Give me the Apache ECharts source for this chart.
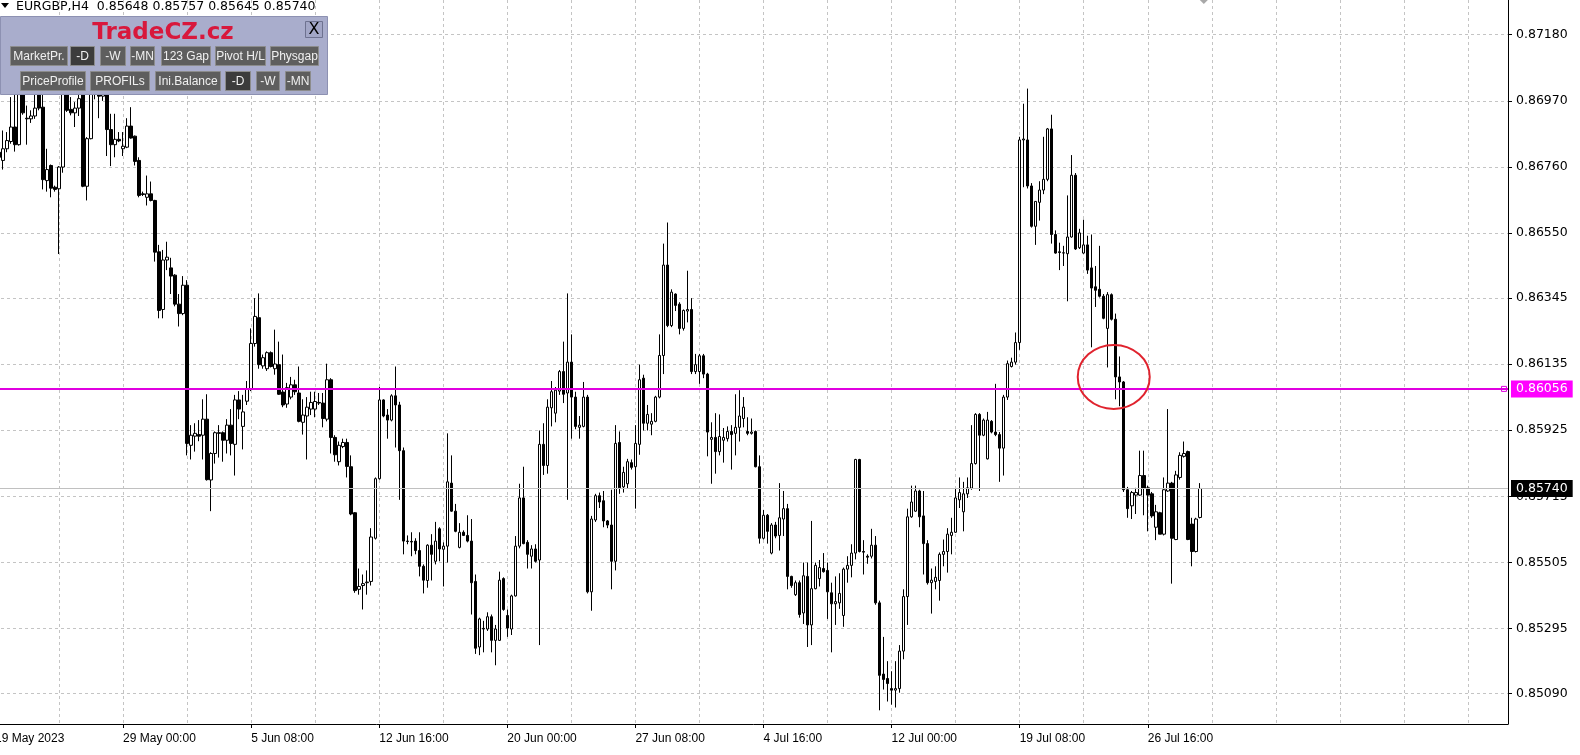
<!DOCTYPE html>
<html><head><meta charset="utf-8">
<script src="https://cdn.jsdelivr.net/npm/echarts@6/dist/echarts.min.js"></script>
<style>html,body{margin:0;padding:0;background:#fff}#c{width:1580px;height:755px}</style>
</head><body><div id="c"></div>
<script>
// ---- calendar (H4 bars, first visible bar = 19 May 16:00) ----
const tradingDays = ['19 May','22 May','23 May','24 May','25 May','26 May','29 May','30 May','31 May',
 '1 Jun','2 Jun','5 Jun','6 Jun','7 Jun','8 Jun','9 Jun','12 Jun','13 Jun','14 Jun','15 Jun','16 Jun',
 '19 Jun','20 Jun','21 Jun','22 Jun','23 Jun','26 Jun','27 Jun','28 Jun','29 Jun','30 Jun',
 '3 Jul','4 Jul','5 Jul','6 Jul','7 Jul','10 Jul','11 Jul','12 Jul','13 Jul','14 Jul',
 '17 Jul','18 Jul','19 Jul','20 Jul','21 Jul','24 Jul','25 Jul','26 Jul','27 Jul','28 Jul',
 '31 Jul','1 Aug','2 Aug','3 Aug','4 Aug','7 Aug','8 Aug','9 Aug','10 Aug','11 Aug','14 Aug','15 Aug','16 Aug'];
const barHours = ['00:00','04:00','08:00','12:00','16:00','20:00'];

// ---- EURGBP H4 OHLC ----
const opens = [
0.86800,0.86807,0.86781,0.86818,0.86841,0.86887,0.86831,0.86995,0.86915,0.86913,
0.86922,0.86990,0.86950,0.86717,0.86765,0.86696,0.86691,0.86760,0.87000,0.86943,
0.86932,0.86947,0.86995,0.86699,0.86850,0.86995,0.87010,0.86985,0.87000,0.86879,
0.86831,0.86848,0.86818,0.86823,0.86890,0.86858,0.86781,0.86675,0.86664,0.86675,
0.86654,0.86491,0.86308,0.86465,0.86440,0.86417,0.86325,0.86295,0.86385,0.85877,
0.85906,0.85911,0.85909,0.85960,0.85767,0.85851,0.85917,0.85917,0.85893,0.85941,
0.85880,0.86021,0.85937,0.86017,0.86056,0.86200,0.86282,0.86129,0.86120,0.86171,
0.86120,0.86133,0.86046,0.86008,0.86030,0.86069,0.86043,0.85950,0.85970,0.85992,
0.85992,0.86013,0.86011,0.85960,0.86085,0.85902,0.85825,0.85873,0.85886,0.85809,
0.85663,0.85420,0.85432,0.85441,0.85445,0.85582,0.85771,0.86021,0.85973,0.85957,
0.86034,0.86005,0.85860,0.85573,0.85572,0.85573,0.85543,0.85493,0.85448,0.85560,
0.85509,0.85612,0.85547,0.85557,0.85757,0.85668,0.85553,0.85601,0.85591,0.85573,
0.85445,0.85237,0.85296,0.85294,0.85333,0.85258,0.85258,0.85454,0.85337,0.85294,
0.85399,0.85557,0.85710,0.85569,0.85525,0.85548,0.85513,0.85880,0.85813,0.85996,
0.85979,0.86049,0.86111,0.86043,0.86141,0.86030,0.85934,0.85937,0.86030,0.85412,
0.85640,0.85717,0.85701,0.85637,0.85624,0.85509,0.85886,0.85745,0.85755,0.85822,
0.85809,0.85880,0.86090,0.85947,0.85944,0.85953,0.86030,0.86162,0.86449,0.86257,
0.86357,0.86325,0.86248,0.86303,0.86308,0.86111,0.86111,0.86161,0.86103,0.85896,
0.85902,0.85857,0.85893,0.85898,0.85921,0.85915,0.85934,0.85962,0.85921,0.85915,
0.85921,0.85809,0.85582,0.85655,0.85535,0.85624,0.85591,0.85643,0.85676,0.85461,
0.85403,0.85441,0.85345,0.85461,0.85307,0.85422,0.85454,0.85486,0.85480,0.85409,
0.85374,0.85377,0.85337,0.85484,0.85496,0.85535,0.85832,0.85540,0.85525,0.85525,
0.85560,0.85377,0.85151,0.85137,0.85105,0.85100,0.85105,0.85224,0.85397,0.85650,
0.85668,0.85732,0.85653,0.85565,0.85441,0.85445,0.85448,0.85531,0.85540,0.85591,
0.85601,0.85704,0.85666,0.85723,0.85741,0.85819,0.85975,0.85909,0.85834,0.85953,
0.85919,0.85911,0.85868,0.86030,0.86127,0.86141,0.86203,0.86846,0.86846,0.86700,
0.86572,0.86648,0.86687,0.86721,0.86881,0.86546,0.86491,0.86487,0.86485,0.86538,
0.86734,0.86504,0.86487,0.86513,0.86440,0.86380,0.86372,0.86350,0.86248,0.86355,
0.86277,0.86094,0.86078,0.85736,0.85685,0.85719,0.85719,0.85781,0.85742,0.85723,
0.85617,0.85663,0.85595,0.85732,0.85757,0.85578,0.85775,0.85842,0.85857,0.85627,
0.85540,0.85648];
const closes = [
0.86810,0.86791,0.86818,0.86844,0.86887,0.86831,0.86990,0.86932,0.86913,0.86922,
0.86947,0.86947,0.86720,0.86752,0.86693,0.86689,0.86760,0.87000,0.86940,0.86932,
0.86947,0.86977,0.86699,0.86850,0.86995,0.87010,0.86985,0.87000,0.86879,0.86831,
0.86848,0.86843,0.86826,0.86890,0.86852,0.86778,0.86670,0.86673,0.86675,0.86654,
0.86490,0.86305,0.86465,0.86474,0.86414,0.86325,0.86295,0.86385,0.85883,0.85909,
0.85915,0.85906,0.85960,0.85768,0.85851,0.85917,0.85915,0.85893,0.85941,0.85883,
0.86021,0.85992,0.85983,0.86056,0.86200,0.86286,0.86133,0.86155,0.86171,0.86127,
0.86135,0.86039,0.86005,0.86060,0.86069,0.86047,0.85953,0.85973,0.85998,0.86013,
0.86016,0.86011,0.85962,0.86085,0.85902,0.85847,0.85877,0.85886,0.85810,0.85659,
0.85416,0.85429,0.85438,0.85443,0.85586,0.85771,0.86021,0.85970,0.85957,0.86034,
0.86005,0.85860,0.85573,0.85572,0.85570,0.85543,0.85493,0.85449,0.85560,0.85531,
0.85573,0.85548,0.85557,0.85761,0.85668,0.85604,0.85601,0.85591,0.85573,0.85441,
0.85233,0.85326,0.85294,0.85333,0.85258,0.85294,0.85449,0.85356,0.85297,0.85399,
0.85557,0.85710,0.85565,0.85531,0.85548,0.85509,0.85880,0.85813,0.85998,0.86047,
0.86052,0.86111,0.86039,0.86141,0.86030,0.85937,0.85941,0.86030,0.85412,0.85643,
0.85717,0.85697,0.85637,0.85624,0.85509,0.85883,0.85742,0.85791,0.85825,0.85807,
0.85883,0.86085,0.85947,0.85975,0.85953,0.86030,0.86162,0.86449,0.86257,0.86363,
0.86321,0.86248,0.86305,0.86308,0.86111,0.86133,0.86161,0.86103,0.85919,0.85902,
0.85857,0.85905,0.85902,0.85921,0.85911,0.85934,0.85970,0.85998,0.85915,0.85919,
0.85809,0.85582,0.85655,0.85604,0.85624,0.85589,0.85647,0.85676,0.85461,0.85432,
0.85441,0.85340,0.85463,0.85307,0.85422,0.85496,0.85489,0.85476,0.85412,0.85374,
0.85381,0.85407,0.85484,0.85496,0.85535,0.85832,0.85540,0.85538,0.85522,0.85560,
0.85377,0.85147,0.85134,0.85121,0.85100,0.85105,0.85224,0.85397,0.85650,0.85697,
0.85732,0.85650,0.85565,0.85441,0.85449,0.85458,0.85531,0.85540,0.85595,0.85601,
0.85710,0.85727,0.85723,0.85742,0.85819,0.85975,0.85909,0.85957,0.85957,0.85919,
0.85911,0.85868,0.86030,0.86136,0.86141,0.86203,0.86846,0.86849,0.86700,0.86572,
0.86651,0.86687,0.86721,0.86881,0.86546,0.86487,0.86489,0.86488,0.86538,0.86734,
0.86500,0.86551,0.86513,0.86433,0.86376,0.86369,0.86350,0.86280,0.86355,0.86277,
0.86094,0.86078,0.85736,0.85676,0.85727,0.85727,0.85781,0.85741,0.85719,0.85653,
0.85666,0.85595,0.85736,0.85757,0.85582,0.85783,0.85845,0.85851,0.85578,0.85540,
0.85643,0.85740];
const lows = [
0.86770,0.86780,0.86752,0.86807,0.86834,0.86809,0.86828,0.86926,0.86831,0.86900,
0.86913,0.86940,0.86689,0.86682,0.86664,0.86682,0.86484,0.86742,0.86935,0.86924,
0.86887,0.86922,0.86696,0.86654,0.86848,0.86975,0.86915,0.86970,0.86795,0.86763,
0.86791,0.86839,0.86795,0.86820,0.86850,0.86765,0.86664,0.86668,0.86638,0.86651,
0.86460,0.86280,0.86280,0.86433,0.86357,0.86318,0.86254,0.86290,0.85845,0.85832,
0.85857,0.85890,0.85832,0.85765,0.85668,0.85819,0.85838,0.85825,0.85851,0.85845,
0.85781,0.85960,0.85864,0.86005,0.86049,0.86190,0.86120,0.86120,0.86113,0.86124,
0.86101,0.86037,0.85998,0.85996,0.86023,0.86037,0.85950,0.85911,0.85832,0.85973,
0.85966,0.86005,0.85934,0.85953,0.85851,0.85825,0.85813,0.85868,0.85775,0.85655,
0.85409,0.85403,0.85356,0.85403,0.85432,0.85578,0.85768,0.85966,0.85898,0.85953,
0.85870,0.85704,0.85531,0.85563,0.85525,0.85531,0.85461,0.85407,0.85425,0.85448,
0.85499,0.85509,0.85429,0.85505,0.85666,0.85601,0.85550,0.85589,0.85569,0.85340,
0.85215,0.85211,0.85220,0.85288,0.85220,0.85179,0.85256,0.85352,0.85269,0.85275,
0.85397,0.85550,0.85563,0.85486,0.85486,0.85505,0.85243,0.85783,0.85787,0.85937,
0.85950,0.86037,0.86011,0.85704,0.85898,0.85928,0.85898,0.85934,0.85407,0.85352,
0.85634,0.85678,0.85617,0.85614,0.85420,0.85480,0.85723,0.85727,0.85741,0.85800,
0.85676,0.85847,0.85924,0.85924,0.85909,0.85950,0.86026,0.86103,0.86252,0.86252,
0.86303,0.86229,0.86241,0.86267,0.86103,0.86103,0.86072,0.86090,0.85842,0.85755,
0.85787,0.85845,0.85822,0.85889,0.85800,0.85845,0.85889,0.85934,0.85909,0.85911,
0.85807,0.85565,0.85578,0.85565,0.85531,0.85582,0.85543,0.85589,0.85420,0.85425,
0.85399,0.85330,0.85310,0.85237,0.85243,0.85420,0.85429,0.85473,0.85326,0.85220,
0.85307,0.85358,0.85301,0.85441,0.85458,0.85515,0.85537,0.85467,0.85501,0.85518,
0.85371,0.85036,0.85102,0.85064,0.85054,0.85045,0.85092,0.85198,0.85307,0.85647,
0.85666,0.85617,0.85467,0.85435,0.85343,0.85420,0.85384,0.85493,0.85473,0.85531,
0.85599,0.85678,0.85604,0.85710,0.85736,0.85816,0.85732,0.85906,0.85832,0.85915,
0.85906,0.85761,0.85781,0.86021,0.86124,0.86133,0.86180,0.86696,0.86692,0.86568,
0.86513,0.86590,0.86674,0.86715,0.86517,0.86485,0.86433,0.86446,0.86334,0.86536,
0.86497,0.86500,0.86485,0.86421,0.86188,0.86316,0.86346,0.86277,0.86124,0.86273,
0.86023,0.86001,0.85729,0.85647,0.85643,0.85659,0.85717,0.85655,0.85604,0.85647,
0.85576,0.85595,0.85591,0.85729,0.85438,0.85576,0.85768,0.85838,0.85576,0.85493,
0.85537,0.85645];
const highs = [
0.86840,0.86830,0.86876,0.86871,0.86982,0.86990,0.87010,0.87020,0.86955,0.86940,
0.86990,0.87010,0.86990,0.86818,0.86768,0.86701,0.86763,0.87030,0.87020,0.86982,
0.86966,0.86990,0.87015,0.86855,0.87030,0.87040,0.87030,0.87030,0.87020,0.86929,
0.86929,0.86871,0.86871,0.86915,0.86950,0.86860,0.86791,0.86682,0.86733,0.86714,
0.86656,0.86513,0.86497,0.86523,0.86472,0.86420,0.86357,0.86414,0.86401,0.85941,
0.85947,0.85957,0.86023,0.86039,0.85855,0.85921,0.85941,0.85921,0.85960,0.85992,
0.86037,0.86049,0.86037,0.86081,0.86248,0.86344,0.86359,0.86165,0.86175,0.86175,
0.86244,0.86206,0.86165,0.86075,0.86094,0.86085,0.86127,0.86023,0.86030,0.86047,
0.86047,0.86043,0.86043,0.86136,0.86090,0.85909,0.85889,0.85898,0.85898,0.85845,
0.85665,0.85486,0.85467,0.85480,0.85614,0.85775,0.86062,0.86023,0.85992,0.86039,
0.86127,0.86015,0.85870,0.85591,0.85601,0.85582,0.85601,0.85499,0.85563,0.85595,
0.85634,0.85617,0.85569,0.85915,0.85845,0.85691,0.85630,0.85607,0.85655,0.85643,
0.85467,0.85330,0.85320,0.85347,0.85340,0.85307,0.85476,0.85458,0.85356,0.85403,
0.85589,0.85755,0.85809,0.85576,0.85560,0.85563,0.85924,0.85947,0.86023,0.86081,
0.86062,0.86116,0.86206,0.86359,0.86229,0.86047,0.85970,0.86078,0.86037,0.85653,
0.85723,0.85727,0.85732,0.85640,0.85736,0.85941,0.85921,0.85809,0.85834,0.85832,
0.85941,0.86133,0.86101,0.86005,0.85979,0.86034,0.86229,0.86517,0.86584,0.86372,
0.86359,0.86331,0.86308,0.86431,0.86344,0.86167,0.86167,0.86167,0.86107,0.85950,
0.85979,0.85975,0.85932,0.85937,0.85941,0.86039,0.86052,0.86030,0.85966,0.85962,
0.85924,0.85845,0.85672,0.85659,0.85630,0.85634,0.85757,0.85732,0.85691,0.85463,
0.85448,0.85448,0.85505,0.85505,0.85637,0.85505,0.85513,0.85535,0.85505,0.85441,
0.85461,0.85471,0.85489,0.85525,0.85563,0.85834,0.85834,0.85576,0.85531,0.85612,
0.85589,0.85384,0.85269,0.85192,0.85160,0.85192,0.85243,0.85420,0.85676,0.85749,
0.85749,0.85736,0.85732,0.85576,0.85486,0.85493,0.85537,0.85578,0.85614,0.85647,
0.85741,0.85775,0.85761,0.85775,0.85941,0.85979,0.85979,0.85962,0.85983,0.85957,
0.86072,0.85919,0.86037,0.86146,0.86155,0.86235,0.86856,0.86961,0.87009,0.86709,
0.86652,0.86715,0.86856,0.86884,0.86926,0.86559,0.86520,0.86510,0.86670,0.86798,
0.86741,0.86564,0.86593,0.86542,0.86546,0.86446,0.86510,0.86357,0.86363,0.86359,
0.86295,0.86159,0.86081,0.85745,0.85732,0.85742,0.85860,0.85860,0.85749,0.85729,
0.85688,0.85666,0.85775,0.85992,0.85761,0.85796,0.85855,0.85889,0.85860,0.85647,
0.85647,0.85757];

// ---- axes / annotations ----
const yTickLabels = [0.85090,0.85295,0.85505,0.85715,0.85925,0.86135,0.86345,0.86550,0.86760,0.86970,0.87180];
const firstLabel = '19 May 2023';
const xTickLabels = ['29 May 00:00','5 Jun 08:00','12 Jun 16:00','20 Jun 00:00','27 Jun 08:00','4 Jul 16:00','12 Jul 00:00','19 Jul 08:00','26 Jul 16:00'];
const symbolName = 'EURGBP,H4';
const levelLine = 0.86056;
const lastClose = 0.85740;
const circleAt = {bar: 279.5, price: 0.86094};
const shiftBar = 302;

const allBars = [];
tradingDays.forEach(d => barHours.forEach(h => allBars.push(d + ' ' + h)));
const TOTAL = 379;
const categories = allBars.slice(4, 4 + TOTAL);
const candles = opens.map((o, i) => [o, closes[i], lows[i], highs[i]]);

const chart = echarts.init(document.getElementById('c'), null, {renderer: 'canvas'});
const isLabel = (i, v) => i === 0 || xTickLabels.indexOf(v) >= 0;
const gridColor = '#c4c4c4';

chart.setOption({
  animation: false,
  backgroundColor: '#ffffff',
  grid: {left: -5, right: 72, top: 0, bottom: 31, containLabel: false, outerBoundsMode: 'none'},
  xAxis: {
    type: 'category', data: categories, boundaryGap: false,
    axisLine: {show: true, lineStyle: {color: '#000', width: 1}},
    axisTick: {show: true, interval: isLabel, length: 4, inside: false, lineStyle: {color: '#000'}},
    axisLabel: {show: true, interval: isLabel, formatter: (v, i) => i === 0 ? firstLabel : v,
      align: 'left', margin: 9, color: '#000', fontFamily: 'Liberation Sans', fontSize: 12},
    splitLine: {show: true, interval: (i) => i % 16 === 0, lineStyle: {color: gridColor, type: [3, 3], width: 1}}
  },
  yAxis: {
    type: 'value', position: 'right', min: 0.849926, max: 0.872901, scale: true,
    axisLine: {show: true, lineStyle: {color: '#000', width: 1}},
    axisTick: {show: true, customValues: yTickLabels, length: 4, lineStyle: {color: '#000'}},
    axisLabel: {show: true, customValues: yTickLabels, formatter: v => v.toFixed(5), margin: 8,
      color: '#000', fontFamily: 'DejaVu Sans', fontSize: 12.5},
    splitLine: {show: true, lineStyle: {color: gridColor, type: [3, 3], width: 1}}
  },
  series: [{
    type: 'candlestick', data: candles, barWidth: 3, silent: true,
    itemStyle: {color: '#ffffff', color0: '#000000', borderColor: '#000000', borderColor0: '#000000', borderColorDoji: '#000000', borderWidth: 1},
    markLine: {
      silent: true, symbol: ['none', 'none'], animation: false, precision: 5, z: 10,
      data: [
        {yAxis: lastClose, lineStyle: {color: '#c0c0c0', width: 1, type: 'solid'},
         label: {show: true, position: 'end', distance: 3, formatter: p => Number(p.value).toFixed(5), backgroundColor: '#000', color: '#fff',
           padding: [2, 5, 2, 5], fontFamily: 'DejaVu Sans', fontSize: 12.5}},
        {yAxis: levelLine, lineStyle: {color: '#e000e0', width: 2, type: 'solid'},
         label: {show: true, position: 'end', distance: 3, formatter: p => Number(p.value).toFixed(5), backgroundColor: '#ff00ff', color: '#fff',
           padding: [2, 5, 2, 5], fontFamily: 'DejaVu Sans', fontSize: 12.5}}
      ]
    },
    markPoint: {
      silent: true, animation: false,
      data: [{coord: [377, levelLine], symbol: 'rect', symbolSize: 5, itemStyle: {color: '#ffffff', borderColor: '#e000e0', borderWidth: 1}, label: {show: false}}]
    }
  }]
});

// ---- overlay: indicator panel, header, annotation ellipse ----
const g = [];
const Z = 100;
const pA = chart.convertToPixel({gridIndex: 0}, [Math.floor(circleAt.bar), circleAt.price]);
const pB = chart.convertToPixel({gridIndex: 0}, [Math.ceil(circleAt.bar), circleAt.price]);
g.push({type: 'ellipse', z: Z, shape: {cx: (pA[0] + pB[0]) / 2, cy: pA[1], rx: 36, ry: 32}, style: {fill: 'none', stroke: '#e0232e', lineWidth: 2}});
const pS = chart.convertToPixel({gridIndex: 0}, [shiftBar, 0.8725]);
g.push({type: 'polygon', z: Z, shape: {points: [[pS[0] - 4, 0], [pS[0] + 4, 0], [pS[0], 4]]}, style: {fill: '#a8a8a8'}});

// header
g.push({type: 'polygon', z: Z, shape: {points: [[1, 3], [9, 3], [5, 8]]}, style: {fill: '#000'}});
const last = candles[candles.length - 1];
g.push({type: 'text', z: Z, style: {text: symbolName + '  ' + [last[0], last[3], last[2], last[1]].map(v => v.toFixed(5)).join(' '),
  x: 16, y: 6.5, fill: '#000', font: '12.5px "DejaVu Sans"', verticalAlign: 'middle', align: 'left'}});
// panel
g.push({type: 'rect', z: Z, shape: {x: 0.5, y: 16.5, width: 327, height: 78}, style: {fill: '#a9adcc', stroke: '#8d91b2', lineWidth: 1}});
g.push({type: 'text', z: Z, style: {text: 'TradeCZ.cz', x: 163, y: 33, fill: '#d8183c', font: 'bold 23px "DejaVu Sans"', align: 'center', verticalAlign: 'middle'}});
g.push({type: 'rect', z: Z, shape: {x: 305.5, y: 21.5, width: 17, height: 16}, style: {fill: '#a2a6c6', stroke: '#6e7290', lineWidth: 1}});
g.push({type: 'text', z: Z, style: {text: 'X', x: 314, y: 30, fill: '#000', font: '16px "DejaVu Sans"', align: 'center', verticalAlign: 'middle'}});
const buttons = [
  ['MarketPr.', 10, 46, 57, false], ['-D', 70, 46, 24, true], ['-W', 100, 46, 25, false], ['-MN', 130, 46, 24, false],
  ['123 Gap', 161, 46, 49, false], ['Pivot H/L', 215, 46, 50, false], ['Physgap', 270, 46, 48, false],
  ['PriceProfile', 20, 71, 65, false], ['PROFILs', 90, 71, 59, false], ['Ini.Balance', 155, 71, 65, false],
  ['-D', 225, 71, 25, true], ['-W', 256, 71, 23, false], ['-MN', 285, 71, 25, false]
];
buttons.forEach(([t, x, y, w, pressed]) => {
  g.push({type: 'rect', z: Z, shape: {x: x + 0.5, y: y + 0.5, width: w, height: 19}, style: {fill: pressed ? '#3c3c3c' : '#5e5e5e', stroke: '#8c8c8c', lineWidth: 1}});
  g.push({type: 'text', z: Z + 1, style: {text: t, x: x + w / 2 + 0.5, y: y + 10.5, fill: '#f0f0f0', font: '12px "Liberation Sans"', align: 'center', verticalAlign: 'middle'}});
});
chart.setOption({graphic: g});
</script>
</body></html>
